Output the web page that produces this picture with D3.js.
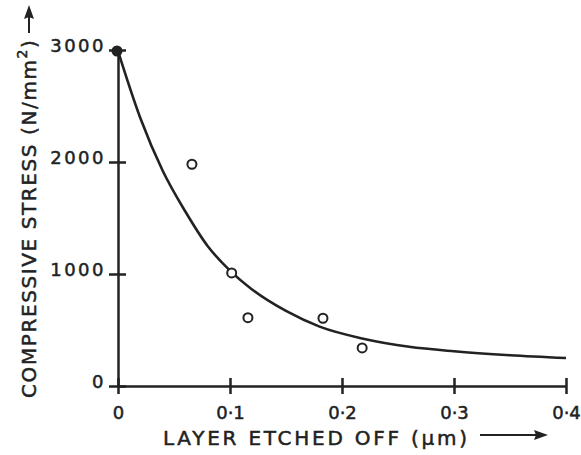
<!DOCTYPE html>
<html>
<head>
<meta charset="utf-8">
<script src="https://cdn.jsdelivr.net/npm/d3@7"></script>
<style>
  body { margin: 0; background: #fff; }
  svg { display: block; }
  text { font-family: "DejaVu Sans", sans-serif; fill: #222; stroke: #222; stroke-width: 0.5px; }
  .axis path, .axis line { stroke: #222; stroke-width: 2.5; }
</style>
</head>
<body>
<script>
const width = 581;
const height = 455;

// tick values and labels
const xTickValues = [0, 0.1, 0.2, 0.3, 0.4];
const xTickLabels = ["0", "0·1", "0·2", "0·3", "0·4"];
const yTickValues = [0, 1000, 2000, 3000];
const yTickLabels = ["0", "1000", "2000", "3000"];

// measured points (open circles)
const measX = [0.066, 0.1015, 0.116, 0.183, 0.218];
const measY = [1980, 1010, 610, 605, 340];

// starting point (filled)
const startX = [0];
const startY = [3000];

// fitted curve
const curveX = [0, 0.02, 0.04, 0.06, 0.08, 0.1, 0.12, 0.15, 0.18, 0.22, 0.26, 0.3, 0.35, 0.4];
const curveY = [2990, 2390, 1920, 1560, 1250, 1030, 860, 670, 530, 420, 350, 310, 275, 250];

const svg = d3.select("body")
  .append("svg")
  .attr("width", width)
  .attr("height", height);

const xScale = d3.scaleLinear()
  .domain([0, 0.4])
  .range([118, 566]);

const yScale = d3.scaleLinear()
  .domain([0, 3000])
  .range([386, 50]);

const xAxis = d3.axisBottom(xScale)
  .tickValues(xTickValues)
  .tickFormat((d, i) => xTickLabels[i])
  .tickSizeOuter(0);

const yAxis = d3.axisLeft(yScale)
  .tickValues(yTickValues)
  .tickFormat((d, i) => yTickLabels[i])
  .tickSizeOuter(0);

const gx = svg.append("g")
  .attr("class", "axis")
  .attr("transform", "translate(0," + yScale(0) + ")")
  .call(xAxis);
gx.selectAll(".tick line").attr("y1", -8).attr("y2", 8);
gx.selectAll(".tick text")
  .attr("y", 33)
  .attr("dy", 0)
  .style("font-size", "18px");

const gy = svg.append("g")
  .attr("class", "axis")
  .attr("transform", "translate(" + xScale(0) + ",0)")
  .call(yAxis);
gy.selectAll(".tick line").attr("x1", -9).attr("x2", 8);
gy.selectAll(".tick text")
  .attr("x", -12)
  .attr("y", 1)
  .attr("dy", "0.05em")
  .style("font-size", "18px")
  .style("letter-spacing", "2.5px")
  .style("text-anchor", "end");

// fitted curve
const curveData = curveX.map((x, i) => ({x: x, y: curveY[i]}));
const line = d3.line()
  .x(d => xScale(d.x))
  .y(d => yScale(d.y))
  .curve(d3.curveMonotoneX);

svg.append("path")
  .datum(curveData)
  .attr("d", line)
  .attr("fill", "none")
  .attr("stroke", "#222")
  .attr("stroke-width", 2.6);

// measured points
svg.selectAll(".meas")
  .data(measX.map((x, i) => ({x: x, y: measY[i]})))
  .enter()
  .append("circle")
  .attr("class", "meas")
  .attr("cx", d => xScale(d.x))
  .attr("cy", d => yScale(d.y))
  .attr("r", 4.5)
  .attr("fill", "#fff")
  .attr("stroke", "#222")
  .attr("stroke-width", 2);

svg.selectAll(".start")
  .data(startX.map((x, i) => ({x: x, y: startY[i]})))
  .enter()
  .append("circle")
  .attr("class", "start")
  .attr("cx", d => xScale(d.x) - 1)
  .attr("cy", d => yScale(d.y) + 1)
  .attr("r", 5.5)
  .attr("fill", "#222");

// x title + arrow
svg.append("text")
  .attr("x", 163)
  .attr("y", 445)
  .attr("textLength", 304)
  .attr("lengthAdjust", "spacing")
  .style("font-size", "20px")
  .text("LAYER ETCHED OFF (μm)");

svg.append("line")
  .attr("x1", 480).attr("x2", 540)
  .attr("y1", 435).attr("y2", 435)
  .attr("stroke", "#222")
  .attr("stroke-width", 2);
svg.append("path")
  .attr("d", "M548,435 L534,430 L536,435 L534,440 Z")
  .attr("fill", "#222");

// y title + arrow
const yTitle = svg.append("text")
  .attr("transform", "translate(36,398) rotate(-90)")
  .style("font-size", "20px")
  .style("letter-spacing", "1.6px");
yTitle.append("tspan").text("COMPRESSIVE STRESS (N/mm");
yTitle.append("tspan")
  .attr("dy", -9)
  .style("font-size", "14px")
  .text("2");
yTitle.append("tspan")
  .attr("dy", 9)
  .text(")");

svg.append("line")
  .attr("x1", 29).attr("x2", 29)
  .attr("y1", 33).attr("y2", 14)
  .attr("stroke", "#222")
  .attr("stroke-width", 2);
svg.append("path")
  .attr("d", "M29,5 L24,19 L29,17 L34,19 Z")
  .attr("fill", "#222");
</script>
</body>
</html>
